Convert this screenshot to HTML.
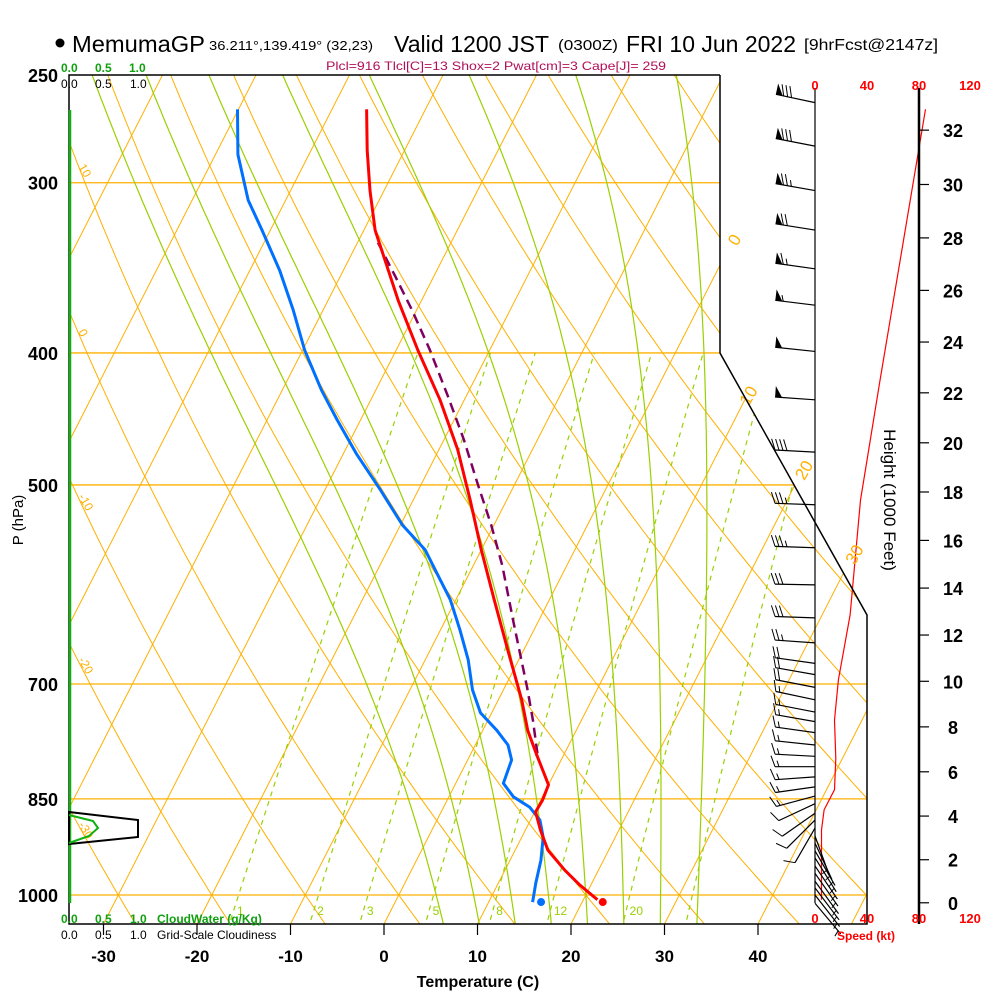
<!DOCTYPE html>
<html><head><meta charset="utf-8"><title>Skew-T MemumaGP</title>
<style>
html,body{margin:0;padding:0;background:#fff;}
svg{display:block;font-family:"Liberation Sans",Arial,sans-serif;}
</style></head>
<body>
<svg id="chart" width="1000" height="1000" viewBox="0 0 1000 1000" xmlns="http://www.w3.org/2000/svg">
<defs>
<clipPath id="plotclip"><polygon points="69,75 720,75 720,353 867,615 867,924 69,924"/></clipPath>
</defs>
<rect x="0" y="0" width="1000" height="1000" fill="#fff"/>
<g id="grid" clip-path="url(#plotclip)"></g>
<g id="series" clip-path="url(#plotclip)"></g>
<g id="winds"></g>
<g id="axes"></g>

<!-- titles -->
<circle cx="60" cy="43" r="4.5" fill="#000"/>
<text x="72" y="52" font-size="23" textLength="133" lengthAdjust="spacingAndGlyphs">MemumaGP</text>
<text x="209" y="50" font-size="13" textLength="164" lengthAdjust="spacingAndGlyphs">36.211°,139.419° (32,23)</text>
<text x="394" y="52" font-size="23" textLength="155" lengthAdjust="spacingAndGlyphs">Valid 1200 JST</text>
<text x="558" y="50" font-size="15" textLength="60" lengthAdjust="spacingAndGlyphs">(0300Z)</text>
<text x="626" y="52" font-size="23" textLength="170" lengthAdjust="spacingAndGlyphs">FRI 10 Jun 2022</text>
<text x="804" y="50" font-size="16" textLength="134" lengthAdjust="spacingAndGlyphs">[9hrFcst@2147z]</text>
<text x="326" y="70" font-size="12" fill="#b0105a" textLength="340" lengthAdjust="spacingAndGlyphs">Plcl=916 Tlcl[C]=13 Shox=2 Pwat[cm]=3 Cape[J]= 259</text>

<!-- cloud scales -->
<g font-size="12" fill="#10a010" font-weight="bold">
<text x="61" y="72">0.0</text><text x="95" y="72">0.5</text><text x="129" y="72">1.0</text></g>
<g font-size="12" fill="#000">
<text x="61" y="88">0.0</text><text x="95" y="88">0.5</text><text x="130" y="88">1.0</text></g>
<g font-size="12" fill="#10a010" font-weight="bold">
<text x="61" y="923">0.0</text><text x="95" y="923">0.5</text><text x="130" y="923">1.0</text><text x="157" y="923">CloudWater (g/Kg)</text></g>
<g font-size="12" fill="#000">
<text x="61" y="939">0.0</text><text x="95" y="939">0.5</text><text x="130" y="939">1.0</text><text x="157" y="939">Grid-Scale Cloudiness</text></g>

<!-- speed scale labels -->
<g font-size="13" fill="#ff0000" text-anchor="middle" font-weight="bold">
<text x="815" y="90">0</text><text x="867" y="90">40</text><text x="919" y="90">80</text><text x="970" y="90">120</text></g>
<g font-size="13" fill="#ff0000" text-anchor="middle" font-weight="bold">
<text x="815" y="923">0</text><text x="867" y="923">40</text><text x="919" y="923">80</text><text x="970" y="923">120</text></g>
<text x="837" y="940" font-size="12" fill="#ff0000" font-weight="bold">Speed (kt)</text>

<text x="478" y="987" font-size="16" text-anchor="middle" font-weight="bold">Temperature (C)</text>
<text transform="translate(23,520) rotate(-90)" font-size="15" text-anchor="middle">P (hPa)</text>
<text transform="translate(884,500) rotate(90)" font-size="17" text-anchor="middle">Height (1000 Feet)</text>

<!-- cloud panel -->
<polygon points="69,812 138,820 138,837 69,844" fill="none" stroke="#000" stroke-width="2"/>
<polyline points="69,815 93,821 98,828 89,836 69,843" fill="none" stroke="#10b010" stroke-width="2"/>
</svg>

<script>
// ---- data ----
const tempP  = [265,284,304,325,342,366,398,433,471,513,558,607,661,719,757,789,830,852,869,896,927,959,983,1008];
const tempC  = [-46.3,-44.0,-41.5,-38.8,-36.1,-32.5,-27.7,-22.6,-18.0,-13.9,-10.0,-5.9,-1.7,2.5,4.8,7.1,10.0,10.2,10.1,11.6,13.5,16.4,18.8,21.5];
const dewP   = [265,286,309,325,348,372,398,426,448,475,504,535,558,582,607,639,672,707,735,757,776,796,828,847,862,881,907,943,980,1012];
const dewC   = [-60.1,-57.6,-54.0,-50.9,-46.8,-43.2,-39.8,-35.8,-32.5,-28.5,-24.1,-19.8,-16.0,-13.3,-10.6,-7.9,-5.4,-3.3,-1.2,1.5,3.5,4.7,5.1,6.9,9.2,11.0,12.3,13.3,14.0,14.7];
const parcelP = [332,351,372,398,430,463,500,535,573,628,704,744,787];
const parcelC = [-37.8,-34.2,-30.5,-26.4,-22.0,-17.9,-13.9,-10.3,-6.9,-2.8,2.4,4.8,7.1];
const sfcP = 1012, sfcT = 22.2, sfcTd = 15.6;
const barbP   = [262,282,304,325,347,369,399,433,473,517,556,592,626,653,676,689,704,719,734,746,760,776,791,805,819,833,846,857,871,881,893,905,916,928,939,952,964,977,988,1000,1014];
const barbDir = [282,281,280,279,278,277,276,274,273,272,272,271,272,274,278,280,281,282,281,280,278,276,273,270,266,262,255,245,235,225,210,160,155,150,148,146,145,144,143,142,140];
const barbSpd = [80,80,75,70,65,55,50,50,40,35,35,30,30,25,20,20,18,17,16,15,15,16,16,17,16,15,13,10,10,8,8,7,6,6,5,5,5,5,5,5,5];
const spdP = [265,419,513,623,695,744,794,837,866,896,1008];
const spdV = [85,50,35,27,18,15,16,15,7,5,5];
const pLevels = [250,300,400,500,700,850,1000];
const tTicks = [-30,-20,-10,0,10,20,30,40];
const mixW = [1,2,3,5,8,12,20,30];
const mixLbl = ["1","2","3","5","8","12","20",""];
const thetaW = [4,8,12,16,20,24,28,32];
const heightK = [0,2,4,6,8,10,12,14,16,18,20,22,24,26,28,30,32];
const isoLblT = [0,10,20,30];
const isoLblP = [332,432,490,565];
const dryLblC = [10,0,-10,-20,-30];

// ---- scales ----
const X0=384, S=9.35, K=0.51, YB=924;
function yP(p){return 895 - 591.6*Math.log(1000/p);}
function xT(T,p){return X0 + S*T + K*(YB - yP(p));}
function xSpd(v){return 815 + 1.3*v;}
function pHeight(kft){const m=kft*304.8;return 1013.25*Math.pow(1-6.5e-3*m/288.15,5.2559);}

const NS="http://www.w3.org/2000/svg";
function mk(tag,attrs,parent){const e=document.createElementNS(NS,tag);for(const k in attrs)e.setAttribute(k,attrs[k]);parent.appendChild(e);return e;}
function ptsStr(arr){return arr.map(a=>a[0].toFixed(1)+","+a[1].toFixed(1)).join(" ");}

const grid=document.getElementById('grid');
const series=document.getElementById('series');
const winds=document.getElementById('winds');
const axes=document.getElementById('axes');
const ORANGE="#ffb000", GREEN="#99d000";

pLevels.forEach(p=>{
  const l=mk('line',{x1:69,x2:870,y1:yP(p),y2:yP(p),stroke:ORANGE,'stroke-width':1.3},grid);
  
  
});
for(let T=-110;T<=60;T+=10){
  const l=mk('line',{x1:xT(T,1060),y1:yP(1060),x2:xT(T,240),y2:yP(240),stroke:ORANGE,'stroke-width':1},grid);
  
  
}
for(let th=-70;th<=180;th+=10){
  const pts=[];
  for(let p=1060;p>=240;p-=10){const T=(th+273.15)*Math.pow(p/1000,0.2857)-273.15;pts.push([xT(T,p),yP(p)]);}
  const l=mk('polyline',{points:ptsStr(pts),fill:'none',stroke:ORANGE,'stroke-width':1},grid);
  
  
}
function es(Tc){return 6.112*Math.exp(17.67*Tc/(Tc+243.5));}
function dTdp(T,p){const e=es(T-273.15);const rs=0.622*e/(p-e);const Rd=287,cp=1004,L=2.5e6;
  return (Rd*T+L*rs)/(p*(cp+L*L*rs*0.622/(Rd*T*T)));}
thetaW.forEach(tw=>{
  const up=[];let T=tw+273.15;
  for(let p=1000;p>=240;p-=5){up.push([xT(T-273.15,p),yP(p)]);const k1=dTdp(T,p);const k2=dTdp(T-2.5*k1,p-2.5);T-=5*k2;}
  const dn=[];T=tw+273.15;
  for(let p=1000;p<=1060;p+=5){dn.push([xT(T-273.15,p),yP(p)]);const k1=dTdp(T,p);const k2=dTdp(T+2.5*k1,p+2.5);T+=5*k2;}
  const pts=dn.reverse().concat(up);
  const l=mk('polyline',{points:ptsStr(pts),fill:'none',stroke:GREEN,'stroke-width':1.2},grid);
  
  
});
function tdW(w,p){const e=w*p/(622+w);const a=Math.log(e/6.112);return 243.5*a/(17.67-a);}
mixW.forEach((w,i)=>{
  const pts=[];
  for(let p=1060;p>=400;p-=10){pts.push([xT(tdW(w,p),p),yP(p)]);}
  const l=mk('polyline',{points:ptsStr(pts),fill:'none',stroke:GREEN,'stroke-width':1.2,'stroke-dasharray':'5,5'},grid);
  
  
  if(mixLbl[i]){
    const t=mk('text',{x:xT(tdW(w,1030),1030)+4,y:915,'font-size':12,fill:GREEN},grid);
    t.textContent=mixLbl[i];
    
    
  }
});
isoLblT.forEach((T,i)=>{
  const p=isoLblP[i];
  const x=xT(T,p)+8, y=yP(p);
  const t=mk('text',{x:x,y:y,'font-size':17,fill:ORANGE,transform:'rotate(-60 '+x+' '+y+')','text-anchor':'middle'},axes);
  t.textContent=String(T);
  
  
});
dryLblC.forEach(th=>{
  let best=1000,bd=1e9;
  for(let p=240;p<=1060;p+=2){const T=(th+273.15)*Math.pow(p/1000,0.2857)-273.15;const d=Math.abs(xT(T,p)-78);if(d<bd){bd=d;best=p;}}
  const y=yP(best);
  const t=mk('text',{x:78,y:y,'font-size':12,fill:ORANGE,transform:'rotate(60 78 '+y+')'},grid);
  t.textContent=String(th);
  
  
});

function prof(P,C){return P.map((p,i)=>[xT(C[i],p),yP(p)]);}
const par=mk('polyline',{points:ptsStr(prof(parcelP,parcelC)),fill:'none',stroke:'#800060','stroke-width':2.5,'stroke-dasharray':'10,6'},series);


const dl=mk('polyline',{points:ptsStr(prof(dewP,dewC)),fill:'none',stroke:'#0070ff','stroke-width':3,'stroke-linejoin':'round'},series);


const tl=mk('polyline',{points:ptsStr(prof(tempP,tempC)),fill:'none',stroke:'#ff0000','stroke-width':3,'stroke-linejoin':'round'},series);


const sd=mk('circle',{cx:xT(sfcTd,sfcP),cy:yP(sfcP),r:4,fill:'#0070ff'},series);


const st=mk('circle',{cx:xT(sfcT,sfcP),cy:yP(sfcP),r:4,fill:'#ff0000'},series);



const fr=mk('polyline',{points:'720,75 69,75 69,924 867,924 867,615 720,353 720,75',fill:'none',stroke:'#000','stroke-width':1.5},axes);


const cw=mk('line',{x1:70,y1:110,x2:70,y2:903,stroke:'#10b010','stroke-width':2.5},axes);


pLevels.forEach(p=>{
  const t=mk('text',{x:58,y:yP(p)+7,'font-size':18,'text-anchor':'end','font-weight':'bold'},axes);
  t.textContent=String(p);
  
  
});
tTicks.forEach(T=>{
  const x=X0+S*T;
  const l=mk('line',{x1:x,x2:x,y1:924,y2:935,stroke:'#000','stroke-width':1.2},axes);
  
  
  const t=mk('text',{x:x,y:962,'font-size':17,'text-anchor':'middle','font-weight':'bold'},axes);
  t.textContent=String(T);
  
  
});
const ha=mk('line',{x1:919,x2:919,y1:88,y2:924,stroke:'#000','stroke-width':2.5},axes);


heightK.forEach(h=>{
  const y=yP(pHeight(h));
  const l=mk('line',{x1:919,x2:929,y1:y,y2:y,stroke:'#000','stroke-width':1.2},axes);
  
  
  const t=mk('text',{x:953,y:y+7,'font-size':18,'text-anchor':'middle','font-weight':'bold'},axes);
  t.textContent=String(h);
  
  
});

const staff0=mk('line',{x1:815,x2:815,y1:88,y2:903,stroke:'#000','stroke-width':1.2},winds);


const spl=mk('polyline',{points:ptsStr(spdP.map((p,i)=>[xSpd(spdV[i]),yP(p)])),fill:'none',stroke:'#ff0000','stroke-width':1.2},winds);


barbP.forEach((p,i)=>{
  const d=barbDir[i]*Math.PI/180, spd=barbSpd[i];
  const ux=Math.sin(d), uy=-Math.cos(d);
  const nx=-uy, ny=ux;
  const bx=815, by=yP(p);
  const L=40;
  const tx=bx+ux*L, ty=by+uy*L;
  const g=mk('g',{},winds);
  
  
  mk('line',{x1:bx,y1:by,x2:tx,y2:ty,stroke:'#000','stroke-width':1.2},g);
  let rem=Math.round(spd/5)*5, pos=0;
  while(rem>=50){
    const ax=tx-ux*pos, ay=ty-uy*pos;
    mk('polygon',{points:ax+','+ay+' '+(ax+nx*11)+','+(ay+ny*11)+' '+(ax-ux*7)+','+(ay-uy*7),fill:'#000'},g);
    pos+=8; rem-=50;
  }
  while(rem>=10){
    const ax=tx-ux*pos, ay=ty-uy*pos;
    mk('line',{x1:ax,y1:ay,x2:ax+nx*11+ux*4,y2:ay+ny*11+uy*4,stroke:'#000','stroke-width':1},g);
    pos+=4; rem-=10;
  }
  if(rem>=5){
    if(pos===0)pos=4;
    const ax=tx-ux*pos, ay=ty-uy*pos;
    mk('line',{x1:ax,y1:ay,x2:ax+nx*6+ux*2,y2:ay+ny*6+uy*2,stroke:'#000','stroke-width':1},g);
  }
});
</script>
</body></html>
